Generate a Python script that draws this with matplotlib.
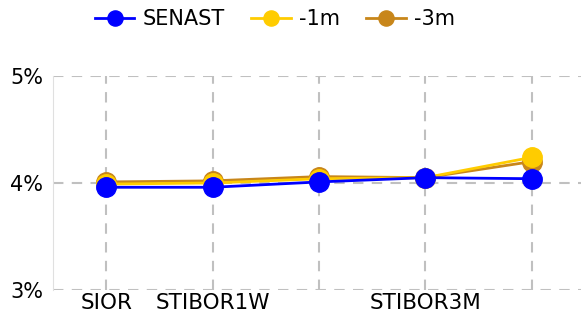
import numpy as np
import matplotlib
matplotlib.use("Agg")
import matplotlib.pyplot as plt
from matplotlib.ticker import FuncFormatter

# dati
categories = ['SIOR', 'STIBOR1W', 'STIBOR1M', 'STIBOR3M', 'STIBOR6M']
shown_labels = ['SIOR', 'STIBOR1W', '', 'STIBOR3M', '']
senast = [3.96, 3.96, 4.01, 4.05, 4.04]
m1 = [3.99, 4.00, 4.04, 4.05, 4.24]
m3 = [4.01, 4.02, 4.06, 4.05, 4.20]

x = np.arange(len(categories))

fig = plt.figure(figsize=(5.81, 3.15), dpi=100)
ax = fig.add_axes([53/581, 1-290/315, 532/581, (290-76)/315])

ax.plot(x, m3, color='#c8861a', marker='o', markersize=14, linewidth=2, label='-3m', zorder=3)
ax.plot(x, m1, color='#ffcc00', marker='o', markersize=14, linewidth=2, label='-1m', zorder=4)
ax.plot(x, senast, color='#0000ff', marker='o', markersize=14, linewidth=2, label='SENAST', zorder=5)

ax.set_xlim(-0.5, 4.5)
ax.set_ylim(3, 5)
ax.set_yticks([3, 4, 5])
ax.yaxis.set_major_formatter(FuncFormatter(lambda v, p: '%d%%' % v))
ax.set_xticks(x)
ax.set_xticklabels(shown_labels)
ax.tick_params(length=0)
ax.tick_params(axis='x', pad=2, labelsize=15.5)
ax.tick_params(axis='y', pad=7, labelsize=15)
ax.grid(True, color='#c0c0c0', linestyle=(0, (5, 4)), linewidth=1.5)
ax.set_axisbelow(True)
for s in ['top', 'right', 'bottom']:
    ax.spines[s].set_visible(False)
ax.spines['left'].set_color('#e0e0e0')

h, l = ax.get_legend_handles_labels()
fig.legend(h[::-1], l[::-1], loc='upper center', bbox_to_anchor=(0.473, 1.03), ncol=3,
           frameon=False, fontsize=15, handlelength=1.9, columnspacing=1.25,
           handletextpad=0.4, markerscale=0.78)

plt.savefig("out.png")
